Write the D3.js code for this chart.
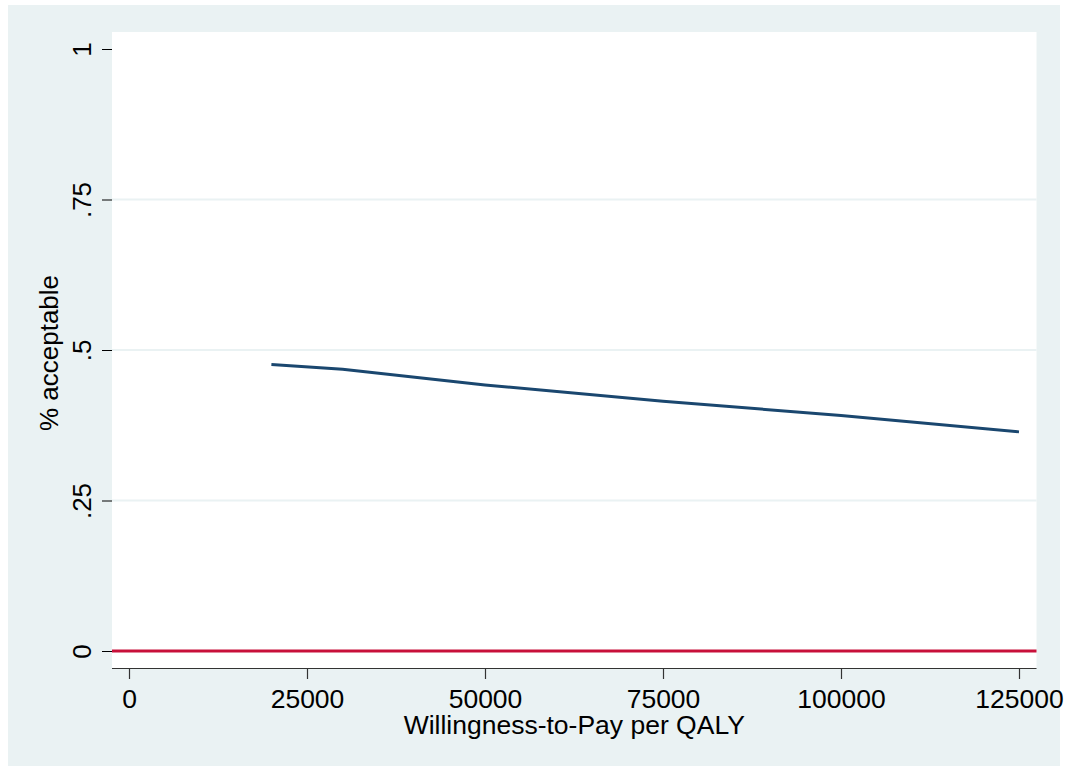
<!DOCTYPE html>
<html>
<head>
<meta charset="utf-8">
<script src="https://cdn.jsdelivr.net/npm/d3@7"></script>
<style>
  html, body { margin: 0; padding: 0; background: #ffffff; }
  svg { display: block; }
  text { font-family: "Liberation Sans", Arial, sans-serif; fill: #000; }
</style>
</head>
<body>
<svg id="chart" width="1065" height="771"></svg>
<script>
// ---- Data ----
const wtp = [20000, 30000, 50000, 75000, 100000, 125000];
const acceptable = [0.476, 0.468, 0.442, 0.415, 0.391, 0.364];
const xTicks = [0, 25000, 50000, 75000, 100000, 125000];
const yTicks = [0, 0.25, 0.5, 0.75, 1];
const yTickLabels = ["0", ".25", ".5", ".75", "1"];
const refLineValue = [0];
const xTitle = "Willingness-to-Pay per QALY";
const yTitle = "% acceptable";

// ---- Layout ----
const plot = { left: 112, right: 1036.5, top: 32, bottom: 668 };
const svg = d3.select("#chart");

// outer background
svg.append("rect").attr("x", 8).attr("y", 5).attr("width", 1052).attr("height", 761)
  .attr("fill", "#eaf2f3");
// plot region
svg.append("rect").attr("x", plot.left).attr("y", plot.top)
  .attr("width", plot.right - plot.left).attr("height", plot.bottom - plot.top)
  .attr("fill", "#ffffff");

const x = d3.scaleLinear().domain([0, 125000]).range([129, 1019]);
const y = d3.scaleLinear().domain([0, 1]).range([651, 49]);

// gridlines
svg.append("g").selectAll("line").data(yTicks.filter(d => d > 0 && d < 1)).join("line")
  .attr("x1", plot.left).attr("x2", plot.right)
  .attr("y1", d => y(d)).attr("y2", d => y(d))
  .attr("stroke", "#eaf2f3").attr("stroke-width", 2);

// y axis (ticks only, no domain line)
const yAxis = d3.axisLeft(y).tickValues(yTicks)
  .tickFormat((d, i) => yTickLabels[i]).tickSize(10).tickPadding(0);
const gy = svg.append("g").attr("transform", `translate(${plot.left},0)`).call(yAxis);
gy.select(".domain").remove();
gy.selectAll(".tick line").attr("stroke", "#000").attr("stroke-width", 1);
gy.selectAll(".tick text")
  .attr("x", 0).attr("y", 0).attr("dy", 0)
  .attr("text-anchor", "middle")
  .attr("transform", "translate(-21,0) rotate(-90)")
  .style("font-size", "26px");

// x axis
const xAxis = d3.axisBottom(x).tickValues(xTicks).tickFormat(d3.format("d"))
  .tickSize(11).tickPadding(0).tickSizeOuter(0);
const gx = svg.append("g").attr("transform", `translate(0,${plot.bottom})`).call(xAxis);
gx.select(".domain").attr("d", `M${plot.left},0.5H${plot.right}`).attr("stroke", "#333").attr("stroke-width", 1.2);
gx.selectAll(".tick line").attr("stroke", "#333").attr("stroke-width", 1.2);
gx.selectAll(".tick text").attr("y", 40).attr("dy", 0).style("font-size", "26.5px");

// reference line at 0
svg.append("g").selectAll("line").data(refLineValue).join("line")
  .attr("x1", plot.left).attr("x2", plot.right)
  .attr("y1", d => y(d)).attr("y2", d => y(d))
  .attr("stroke", "#c8103a").attr("stroke-width", 3);

// data line
const pts = wtp.map((d, i) => [d, acceptable[i]]);
svg.append("path").datum(pts)
  .attr("fill", "none").attr("stroke", "#1a476f").attr("stroke-width", 3)
  .attr("d", d3.line().x(d => x(d[0])).y(d => y(d[1])));

// titles
svg.append("text").attr("x", (plot.left + plot.right) / 2).attr("y", 734)
  .attr("text-anchor", "middle").style("font-size", "26.5px").text(xTitle);
svg.append("text").attr("transform", `translate(58,353) rotate(-90)`)
  .attr("text-anchor", "middle").style("font-size", "26px").text(yTitle);
</script>
</body>
</html>
